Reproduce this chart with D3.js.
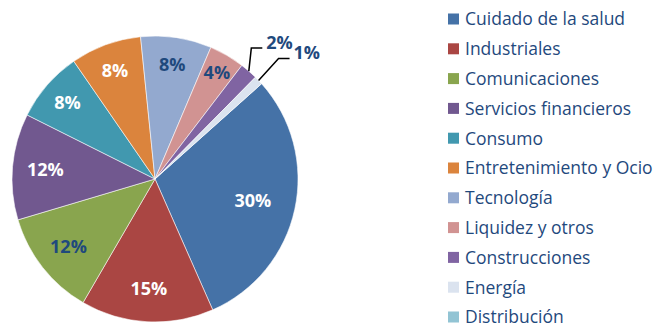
<!DOCTYPE html>
<html>
<head>
<meta charset="utf-8">
<script src="https://cdn.jsdelivr.net/npm/d3@7/dist/d3.min.js"></script>
<style>
  html, body { margin: 0; padding: 0; background: #fff; }
  svg { display: block; }
</style>
</head>
<body>
<svg id="chart" width="668" height="329"></svg>
<script>
// Portfolio breakdown by sector (percent of total)
const categories = [
  "Cuidado de la salud",
  "Industriales",
  "Comunicaciones",
  "Servicios financieros",
  "Consumo",
  "Entretenimiento y Ocio",
  "Tecnología",
  "Liquidez y otros",
  "Construcciones",
  "Energía",
  "Distribución"
];
const shares = [30, 15, 12, 12, 8, 8, 8, 4, 2, 1, 0];

// Slice fills and label colours, in category order
const sliceColors = [
  "#4572A7", "#AA4643", "#89A54E", "#71588F", "#4198AF", "#DB843D",
  "#93A9CF", "#D19392", "#8064A2", "#DBE3EF", "#92C4D4"
];
const labelOnDark = [true, true, false, true, true, true, false, false, false, false, false];

const TEXT_BLUE = "#1F497D";
const svg = d3.select("#chart");

const cx = 155, cy = 179, radius = 143;
const startDeg = 48.2;
const rad = d => d * Math.PI / 180;

const pie = d3.pie()
  .sort(null)
  .value(d => d.value)
  .startAngle(rad(startDeg))
  .endAngle(rad(startDeg + 360));

const rows = categories.map((c, i) => ({ name: c, value: shares[i], i }));
const arcs = pie(rows);

const arc = d3.arc().innerRadius(0).outerRadius(radius);
const g = svg.append("g").attr("transform", `translate(${cx},${cy})`);

g.selectAll("path.slice")
  .data(arcs.filter(a => a.data.value > 0))
  .join("path")
  .attr("class", "slice")
  .attr("d", arc)
  .attr("fill", a => sliceColors[a.data.i])
  .attr("stroke", "#ffffff")
  .attr("stroke-width", 0.8)
  .attr("stroke-opacity", 0.7);

// Inside labels sit closer to the centre on wide slices
function labelFactor(p) {
  if (p > 25) return 0.70;
  if (p > 10) return 0.77;
  if (p >= 5) return 0.81;
  return 0.86;
}

const polar = (angle, r) => [Math.sin(angle) * r, -Math.cos(angle) * r];
const labelFont = "'Open Sans', 'DejaVu Sans', sans-serif";

const inside = arcs.filter(a => a.data.value >= 3);
g.selectAll("text.inlabel")
  .data(inside)
  .join("text")
  .attr("class", "inlabel")
  .attr("x", a => polar((a.startAngle + a.endAngle) / 2, radius * labelFactor(a.data.value))[0])
  .attr("y", a => polar((a.startAngle + a.endAngle) / 2, radius * labelFactor(a.data.value))[1] + 6.4)
  .attr("text-anchor", "middle")
  .attr("font-family", labelFont)
  .attr("font-weight", 700)
  .attr("font-size", 18)
  .attr("fill", a => labelOnDark[a.data.i] ? "#ffffff" : TEXT_BLUE)
  .text(a => a.data.value + "%");

// Small slices get a label outside with a bent leader line
const leaderBends = { "Construcciones": [2.5, -23], "Energía": [20, -22] };
const outside = arcs.filter(a => a.data.value > 0 && a.data.value < 3);
outside.forEach(a => {
  const mid = (a.startAngle + a.endAngle) / 2;
  const p0 = polar(mid, radius);
  const bend = leaderBends[a.data.name] || [10, -20];
  const p1 = [p0[0] + bend[0], p0[1] + bend[1]];
  const p2 = [p1[0] + 11, p1[1]];
  g.append("path")
    .attr("d", d3.line()([p0, p1, p2]))
    .attr("fill", "none")
    .attr("stroke", "#000")
    .attr("stroke-width", 1.5);
  g.append("text")
    .attr("x", p2[0] + 4)
    .attr("y", p2[1] + 0.5)
    .attr("font-family", labelFont)
    .attr("font-weight", 700)
    .attr("font-size", 18)
    .attr("fill", TEXT_BLUE)
    .text(a.data.value + "%");
});

// Legend
const legend = svg.append("g").attr("transform", "translate(448,19)");
const rowStep = 29.8;
const item = legend.selectAll("g.item")
  .data(rows)
  .join("g")
  .attr("class", "item")
  .attr("transform", d => `translate(0,${d.i * rowStep})`);
item.append("rect")
  .attr("x", 0).attr("y", -5.5)
  .attr("width", 11).attr("height", 11)
  .attr("fill", d => sliceColors[d.i]);
item.append("text")
  .attr("x", 17)
  .attr("y", 6.3)
  .attr("font-family", labelFont)
  .attr("font-size", 17.5)
  .attr("fill", TEXT_BLUE)
  .text(d => d.name);
</script>
</body>
</html>
